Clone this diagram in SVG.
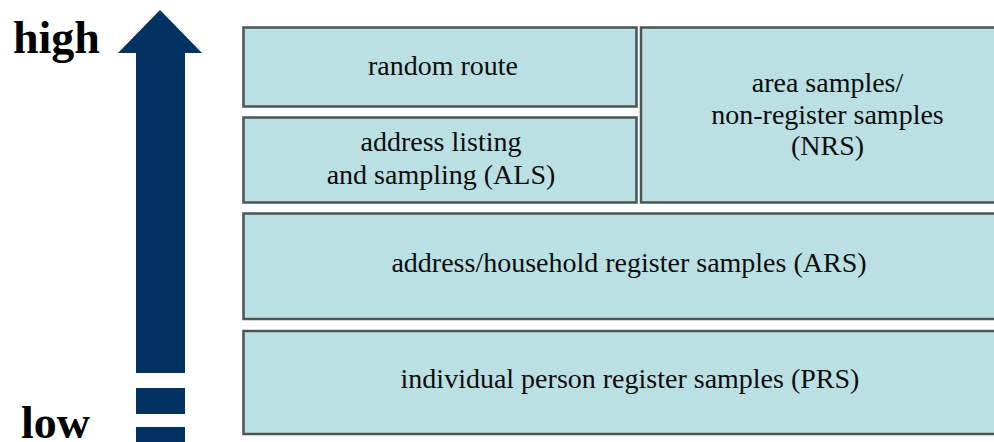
<svg xmlns="http://www.w3.org/2000/svg" width="994" height="442" viewBox="0 0 994 442">
<style>
.box{fill:#bbe0e3;stroke:#4a5556;stroke-width:2.5}
.t{font-family:'Liberation Serif','Times New Roman','DejaVu Serif',serif;font-size:28px;font-weight:normal;fill:#0d0d0d;text-anchor:middle}
.lbl{font-family:'Liberation Serif','Times New Roman','DejaVu Serif',serif;font-size:46px;font-weight:bold;fill:#000}
.arr{fill:#023262}
</style>
<rect width="994" height="442" fill="#fff"/>
<g id="scale">
<text class="lbl" x="13" y="53">high</text>
<text class="lbl" x="21" y="438">low</text>
<polygon class="arr" points="160,10 202,53 185,53 185,373 136,373 136,53 118,53"/>
<rect class="arr" x="136" y="388" width="49" height="26"/>
<rect class="arr" x="136" y="427" width="49" height="15"/>
</g>
<g id="random-route">
<rect class="box" x="243.5" y="27.5" width="393" height="79"/>
<text class="t" x="443" y="75">random route</text>
</g>
<g id="als">
<rect class="box" x="243.5" y="117.5" width="393" height="85"/>
<text class="t" x="441" y="151">address listing</text>
<text class="t" x="441" y="184">and sampling (ALS)</text>
</g>
<g id="nrs">
<rect class="box" x="641" y="27.5" width="380" height="175"/>
<text class="t" x="827.5" y="92">area samples/</text>
<text class="t" x="827.5" y="123.5">non-register samples</text>
<text class="t" x="827.5" y="155">(NRS)</text>
</g>
<g id="ars">
<rect class="box" x="243.5" y="213.5" width="780" height="105.5"/>
<text class="t" x="629" y="272">address/household register samples (ARS)</text>
</g>
<g id="prs">
<rect class="box" x="243.5" y="331" width="780" height="103"/>
<text class="t" x="630" y="388">individual person register samples (PRS)</text>
</g>
<g id="connectors"/>
</svg>
